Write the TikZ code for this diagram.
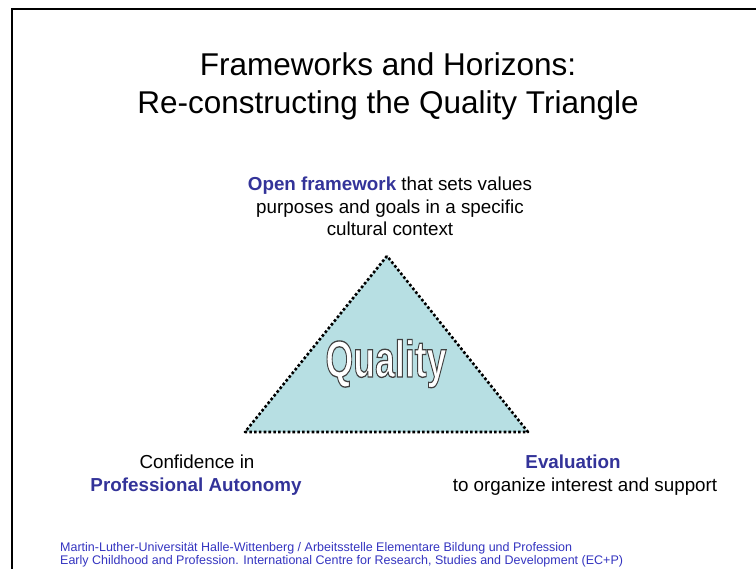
\documentclass[tikz,border=0pt]{standalone}
\usepackage{fontspec}
\setmainfont{Liberation Sans}
\definecolor{labelblue}{HTML}{333399}
\definecolor{footblue}{HTML}{3434C0}
\definecolor{trifill}{HTML}{B7DFE3}
\tikzset{
  titletext/.style={anchor=base, inner sep=0pt, font=\fontsize{31.5}{38}\selectfont},
  bodytext/.style={anchor=base, inner sep=0pt, font=\fontsize{18.8}{22.5}\selectfont},
  foottext/.style={anchor=base west, inner sep=0pt, text=footblue, font=\fontsize{12.5}{14}\selectfont},
  framerule/.style={line width=1.8pt, line cap=rect},
  tribox/.style={fill=trifill, draw=black, line width=2.6pt, dash pattern=on 2.6pt off 2.2pt, line join=round},
}
\newcommand{\kw}[1]{\textbf{\textcolor{labelblue}{#1}}}
% white letters with a thin dark stroke (fill+stroke text rendering mode)
\newcommand{\outlined}[1]{%
  \special{pdf:literal 0.25 0.25 0.25 RG 1.3 w 2 Tr}#1\special{pdf:literal 0 Tr}}
\newcommand{\qword}{\scalebox{0.69}[1]{\fontsize{51.7}{60}\selectfont\bfseries\outlined{Quality}}}
\begin{document}
\begin{tikzpicture}[x=1pt,y=-1pt]
\useasboundingbox (0,0) rectangle (756,569);

% slide frame (top and left edges)
\draw[framerule] (12,569) -- (12,9) -- (756,9);

% title
\node[titletext] (title1) at (388,76) {Frameworks and Horizons:};
\node[titletext] (title2) at (388,114) {Re-constructing the Quality Triangle};

% upper label
\node[bodytext] (top1) at (390,191) {\kw{Open framework} that sets values};
\node[bodytext] (top2) at (390,214) {purposes and goals in a specific};
\node[bodytext] (top3) at (390,236) {cultural context};

% triangle
\coordinate (apex) at (387,256);
\coordinate (bl) at (245,432);
\coordinate (br) at (528,432);
\filldraw[tribox] (apex) -- (bl) -- (br) -- cycle;

% word in the triangle
\node[anchor=base, inner sep=0pt, text=white] (quality) at (386,377) {\qword};

% lower labels
\node[bodytext] (left1) at (197,469) {Confidence in};
\node[bodytext] (left2) at (196,492) {\kw{Professional Autonomy}};
\node[bodytext] (right1) at (573,469) {\kw{Evaluation}};
\node[bodytext] (right2) at (585,492) {to organize interest and support};

% footer
\node[foottext] (foot1) at (60,551) {Martin-Luther-Universität Halle-Wittenberg / Arbeitsstelle Elementare Bildung und Profession};
\node[foottext] (foot2) at (60,565) {Early Childhood and Profession. International Centre for Research, Studies and Development (EC+P)};
\end{tikzpicture}
\end{document}
